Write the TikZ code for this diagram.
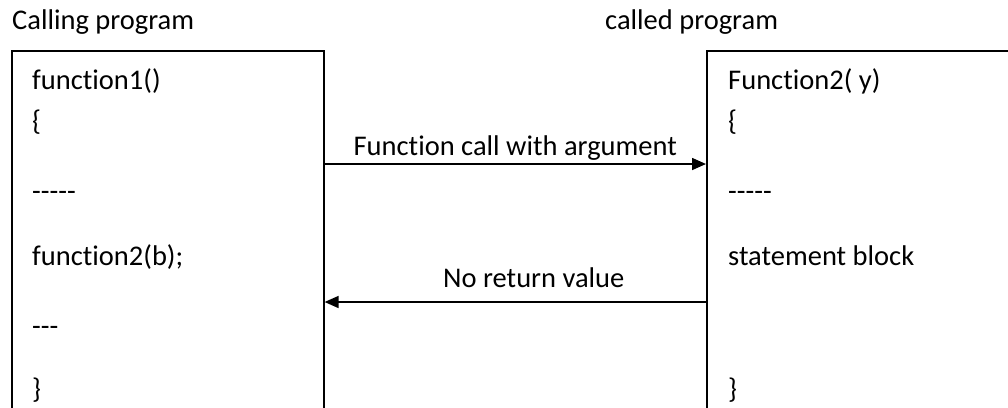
\documentclass[tikz,border=0pt]{standalone}
\usepackage{fontspec}
\setmainfont{Carlito}[Ligatures=NoCommon]
\usetikzlibrary{arrows.meta}
\begin{document}
\begin{tikzpicture}[x=1bp,y=-1bp,
  box/.style={draw,line width=1.6bp,rectangle,minimum height=400bp,inner sep=0pt},
  txt/.style={anchor=base west,inner sep=0pt,font=\fontsize{28.5bp}{34bp}\selectfont},
  conn/.style={line width=1.6bp,-{Triangle[length=14bp,width=12bp]}}]
\useasboundingbox (0,0) rectangle (1008,407);
\clip (0,0) rectangle (1008,407);
\node[box,minimum width=312bp,anchor=north west] (caller) at (11,50) {};
\node[box,minimum width=340bp,anchor=north west] (callee) at (706,50) {};
\node[txt] (t1) at (12,29) {Calling program};
\node[txt] (t2) at (605,29) {called program};
\node[txt] (l1) at (32,89) {function1()};
\node[txt] (l2) at (32,130) {\{};
\node[txt] (l3) at (32,200) {-{}-{}-{}-{}-};
\node[txt] (l4) at (32,265) {function2(b);};
\node[txt] (l5) at (32,335) {-{}-{}-};
\node[txt] (l6) at (32,398) {\}};
\node[txt] (r1) at (728,89) {Function2( y)};
\node[txt] (r2) at (728,130) {\{};
\node[txt] (r3) at (728,200) {-{}-{}-{}-{}-};
\node[txt] (r4) at (728,265) {statement block};
\node[txt] (r6) at (728,398) {\}};
\coordinate (ya) at (0,164);
\coordinate (yb) at (0,302);
\draw[conn] (caller.east |- ya) -- node[txt,anchor=base,pos=0.5,yshift=9bp] (la) {Function call with argument} (callee.west |- ya);
\draw[conn] (callee.west |- yb) -- (caller.east |- yb);
\node[txt] (lb) at (443,287) {No return value};
\end{tikzpicture}
\end{document}
